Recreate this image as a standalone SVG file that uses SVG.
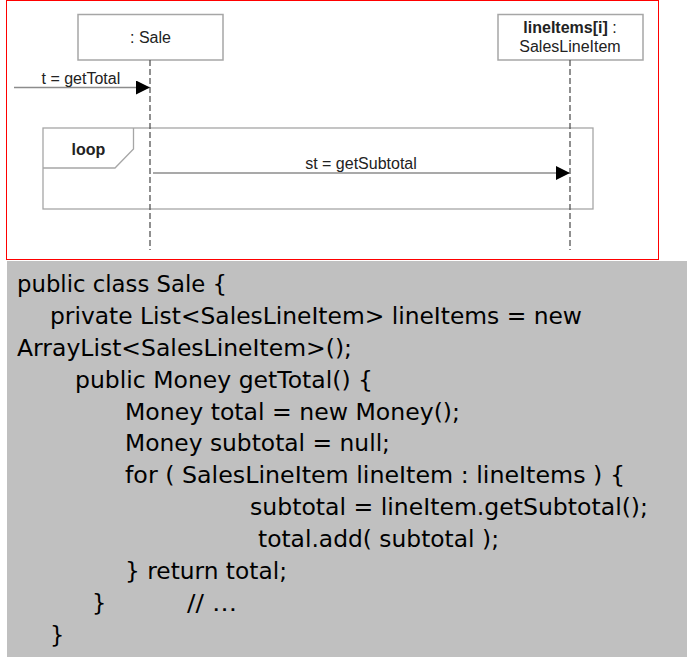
<svg xmlns="http://www.w3.org/2000/svg" width="687" height="668" viewBox="0 0 687 668">
<defs>
<style>
.box{fill:#fff;stroke:#a6a6a6;stroke-width:1.5}
.life{stroke:#555;stroke-width:1.3;stroke-dasharray:6,3;fill:none}
.msg{stroke:#8c8c8c;stroke-width:1.3;fill:none}
.frame{fill:none;stroke:#a6a6a6;stroke-width:1.3}
.lbl{font-family:"Liberation Sans",Arial,sans-serif;font-size:16px;fill:#222}
.code{font-family:"DejaVu Sans",Verdana,sans-serif;font-size:22.5px;fill:#000}
</style>
<marker id="ah" markerWidth="14" markerHeight="14" refX="14" refY="7" orient="auto" markerUnits="userSpaceOnUse">
<path d="M0,0 L14,7 L0,14 Z" fill="#000"/>
</marker>
</defs>
<rect x="0" y="0" width="687" height="668" fill="#fff"/>
<rect x="6.5" y="0.5" width="652" height="259" fill="#fff" stroke="#ff0000" stroke-width="1"/>
<rect x="7" y="261" width="680" height="396" fill="#c0c0c0"/>

<g id="sale">
<rect class="box" x="78" y="14.5" width="145" height="45.5"/>
<text class="lbl" x="150.5" y="42.5" text-anchor="middle">: Sale</text>
</g>
<g id="lineItems">
<rect class="box" x="498" y="14.5" width="145" height="45.5"/>
<text class="lbl" x="570" y="32.5" text-anchor="middle"><tspan font-weight="bold">lineItems[i]</tspan> :</text>
<text class="lbl" x="570" y="52" text-anchor="middle">SalesLineItem</text>
</g>
<g id="loop">
<rect class="frame" x="43" y="128" width="550" height="81"/>
<path class="frame" d="M43,168 L115,168 L133.5,149 L133.5,128"/>
<text class="lbl" x="88.5" y="155" text-anchor="middle" font-weight="bold">loop</text>
</g>

<g id="connectors">
<line class="life" x1="150" y1="60" x2="150" y2="250"/>
<line class="life" x1="570" y1="60" x2="570" y2="250"/>
<line class="msg" x1="14" y1="87.5" x2="150" y2="87.5" marker-end="url(#ah)"/>
<text class="lbl" x="41.5" y="84">t = getTotal</text>
<line class="msg" x1="153" y1="173" x2="570" y2="173" marker-end="url(#ah)"/>
<text class="lbl" x="361" y="169" text-anchor="middle">st = getSubtotal</text>
</g>

<g id="code">
<text class="code" x="17" y="292" textLength="210" lengthAdjust="spacingAndGlyphs">public class Sale {</text>
<text class="code" x="50" y="324" textLength="532" lengthAdjust="spacingAndGlyphs">private List&lt;SalesLineItem&gt; lineItems = new</text>
<text class="code" x="17" y="356" textLength="335" lengthAdjust="spacingAndGlyphs">ArrayList&lt;SalesLineItem&gt;();</text>
<text class="code" x="75" y="388" textLength="298" lengthAdjust="spacingAndGlyphs">public Money getTotal() {</text>
<text class="code" x="125" y="420" textLength="335" lengthAdjust="spacingAndGlyphs">Money total = new Money();</text>
<text class="code" x="125" y="451" textLength="265" lengthAdjust="spacingAndGlyphs">Money subtotal = null;</text>
<text class="code" x="125" y="483" textLength="500" lengthAdjust="spacingAndGlyphs">for ( SalesLineItem lineItem : lineItems ) {</text>
<text class="code" x="250" y="515" textLength="398" lengthAdjust="spacingAndGlyphs">subtotal = lineItem.getSubtotal();</text>
<text class="code" x="258" y="547" textLength="241" lengthAdjust="spacingAndGlyphs">total.add( subtotal );</text>
<text class="code" x="125" y="579" textLength="162" lengthAdjust="spacingAndGlyphs">} return total;</text>
<text class="code" x="92" y="611">}</text>
<text class="code" x="187" y="611" textLength="50" lengthAdjust="spacingAndGlyphs">// …</text>
<text class="code" x="50" y="643">}</text>
</g>
</svg>
